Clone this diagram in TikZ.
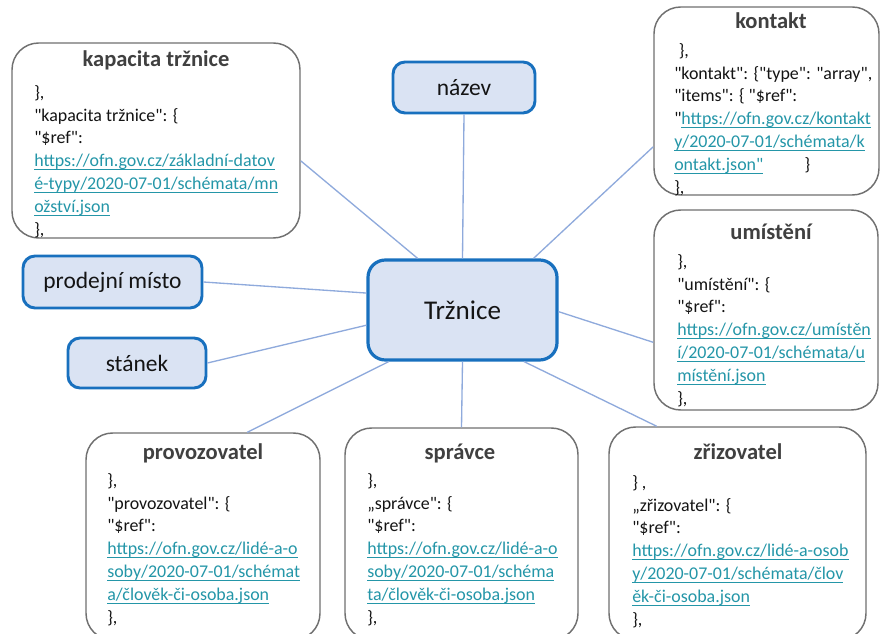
\documentclass[tikz,border=0pt]{standalone}
\usepackage{fontspec}
\setmainfont{Carlito}[Ligatures=TeXOff]

\definecolor{hubline}{RGB}{24,112,190}
\definecolor{hubfill}{RGB}{218,227,243}
\definecolor{spokecol}{RGB}{143,170,220}
\definecolor{cardline}{RGB}{112,112,112}
\definecolor{titleink}{RGB}{64,64,64}
\definecolor{ink}{RGB}{20,20,20}
\definecolor{urlcol}{RGB}{36,150,168}

% underlined link text, rule at a fixed depth
\newsavebox{\lnkbox}
\newcommand{\lnk}[1]{{\color{urlcol}\sbox{\lnkbox}{#1}%
  \rlap{\rule[-2.6pt]{\wd\lnkbox}{0.65pt}}\usebox{\lnkbox}}}

\begin{document}
\begin{tikzpicture}[
 x=0.75pt,y=-0.75pt,
 every node/.style={text=ink},
 hub/.style={draw=hubline,fill=hubfill,line width=2.4pt,rounded corners=13pt,
  font=\fontsize{20.3}{24}\selectfont},
 topic/.style={draw=hubline,fill=hubfill,line width=2.2pt,rounded corners=9pt,
  font=\fontsize{17.6}{21}\selectfont},
 card/.style={draw=cardline,fill=white,line width=1.1pt,rounded corners=20pt},
 cardtitle/.style={font=\fontsize{16.9}{20}\selectfont\bfseries,text=titleink},
 cardbody/.style={anchor=north west,align=left,inner sep=0pt,
  font=\fontsize{13.45}{17.1}\selectfont},
 spoke/.style={draw=spokecol,line width=1pt}
]
 \useasboundingbox (0,0) rectangle (881,634);
 \clip (0,0) rectangle (881,634);

 % centre and the short labels
 \node[hub,minimum width=141.75pt,minimum height=75pt] (trz) at (462.5,310) {Tržnice};
 \node[topic,minimum width=106.5pt,minimum height=38.25pt] (nazev) at (464,87.5) {název};
 \node[topic,minimum width=134.25pt,minimum height=39pt] (prod) at (112.5,282) {prodejní místo};
 \node[topic,minimum width=103.5pt,minimum height=37.5pt] (stanek) at (137,363) {stánek};

 % schema cards
 \node[card,minimum width=216pt,minimum height=146.25pt] (kap) at (156,140.5) {};
 \node[card,minimum width=168.75pt,minimum height=141pt] (kon) at (766.5,101) {};
 \node[card,minimum width=168pt,minimum height=150pt] (um) at (766,310) {};
 \node[card,minimum width=175.5pt,minimum height=155.25pt] (prov) at (203,536.5) {};
 \node[card,minimum width=174.75pt,minimum height=159pt] (spr) at (461.5,534) {};
 \node[card,minimum width=192.75pt,minimum height=159.75pt] (zri) at (737.5,533.5) {};

 \node[cardtitle] (kap-t) at (156,60) {kapacita tržnice};
 \node[cardbody] (kap-b) at (34,85) {\},\\
  "kapacita tržnice": \{\\
  "\$ref":\\
  \lnk{https://ofn.gov.cz/základní-datov}\\
  \lnk{é-typy/2020-07-01/schémata/mn}\\
  \lnk{ožství.json}\\
  \},};

 \node[cardtitle] (kon-t) at (771,21) {kontakt};
 \node[cardbody] (kon-b) at (674,43) {\hspace*{0.25em}\},\\
  "kontakt": \{"type": "array",\\
  "items": \{ "\$ref":\\
  "\lnk{https://ofn.gov.cz/kontakt}\\
  \lnk{y/2020-07-01/schémata/k}\\
  \lnk{ontakt.json"}\hspace{2.3em}\}\\
  \},};

 \node[cardtitle] (um-t) at (771,232) {umístění};
 \node[cardbody] (um-b) at (677,254) {\},\\
  "umístění": \{\\
  "\$ref":\\
  \lnk{https://ofn.gov.cz/umístěn}\\
  \lnk{í/2020-07-01/schémata/u}\\
  \lnk{místění.json}\\
  \},};

 \node[cardtitle] (prov-t) at (203,453) {provozovatel};
 \node[cardbody] (prov-b) at (107,473) {\},\\
  "provozovatel": \{\\
  "\$ref":\\
  \lnk{https://ofn.gov.cz/lidé-a-o}\\
  \lnk{soby/2020-07-01/schémat}\\
  \lnk{a/člověk-či-osoba.json}\\
  \},};

 \node[cardtitle] (spr-t) at (460,453) {správce};
 \node[cardbody] (spr-b) at (367,473) {\},\\
  „správce": \{\\
  "\$ref":\\
  \lnk{https://ofn.gov.cz/lidé-a-o}\\
  \lnk{soby/2020-07-01/schéma}\\
  \lnk{ta/člověk-či-osoba.json}\\
  \},};

 \node[cardtitle] (zri-t) at (738,452) {zřizovatel};
 \node[cardbody] (zri-b) at (632,475) {\} ,\\
  „zřizovatel": \{\\
  "\$ref":\\
  \lnk{https://ofn.gov.cz/lidé-a-osob}\\
  \lnk{y/2020-07-01/schémata/člov}\\
  \lnk{ěk-či-osoba.json}\\
  \},};

 % spokes out of the centre
 \draw[spoke] (trz.131) -- (kap.-8);
 \draw[spoke] (trz.north) -- (nazev.south);
 \draw[spoke] (trz.36) -- (kon.202);
 \draw[spoke] (trz.-1) -- (um.196);
 \draw[spoke] (trz.-40) -- (zri.127);
 \draw[spoke] (trz.south) -- (spr.north);
 \draw[spoke] (trz.215) -- (prov.67);
 \draw[spoke] (trz.189) -- (stanek.east);
 \draw[spoke] (trz.170) -- (prod.east);
\end{tikzpicture}
\end{document}
